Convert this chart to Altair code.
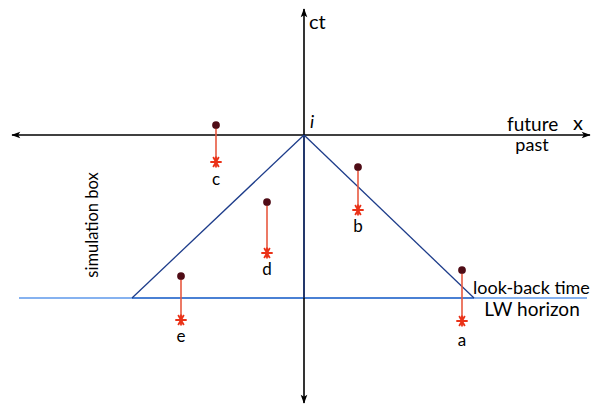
import altair as alt
import pandas as pd

# Diagram coordinates: origin at event i, x to the right, ct upwards (pixel-like units)
X_DOMAIN = [-296, 288]
Y_DOMAIN = [-270, 127]

# events a..e: position of the dot, the projected star and the letter label
event_names = ["a", "b", "c", "d", "e"]
event_x = [158, 54, -88, -37, -123]
event_ct = [-135, -32, 10, -67, -141]
star_ct = [-186, -75, -27, -118, -185]
name_ct = [-206, -92, -45, -135, -202]

# axes and light cone
x_axis_ends = [-292, 286]
ct_axis_ends = [-268, 126]
horizon_ct = -163
horizon_ends = [-285, 283]
cone_base_ends = [-172, 170]

# free text annotations
annot_text = ["ct", "future", "x", "past", "look-back time", "LW horizon"]
annot_x = [5, 203, 274, 228, 169, 228]
annot_ct = [112, 10, 11, -11, -154, -175]
annot_size = [20, 19, 20, 18, 18, 19]
annot_align = ["left", "left", "center", "center", "left", "center"]

FONT = "Lato"

xs = alt.Scale(domain=X_DOMAIN, nice=False, zero=False)
ys = alt.Scale(domain=Y_DOMAIN, nice=False, zero=False)


def X(f="x"):
    return alt.X(f"{f}:Q", scale=xs, axis=None)


def Y(f="y"):
    return alt.Y(f"{f}:Q", scale=ys, axis=None)


def segs(rows, color, width):
    df = pd.DataFrame(rows, columns=["x", "y", "x2", "y2"])
    return alt.Chart(df).mark_rule(color=color, strokeWidth=width, strokeCap="butt").encode(
        x=X(), y=Y(), x2="x2:Q", y2="y2:Q"
    )


horizon = segs([[horizon_ends[0], horizon_ct, horizon_ends[1], horizon_ct]], "#86b2f0", 2)
cone_base = segs([[cone_base_ends[0], horizon_ct, cone_base_ends[1], horizon_ct]], "#4a80d4", 2)
axes = segs(
    [
        [x_axis_ends[0], 0, x_axis_ends[1], 0],
        [0, ct_axis_ends[0], 0, ct_axis_ends[1]],
    ],
    "black",
    1.6,
)
cone = segs(
    [
        [cone_base_ends[0], horizon_ct, 0, 0],
        [0, 0, cone_base_ends[1], horizon_ct],
        [0, 0, 0, horizon_ct],
    ],
    "#1d3c8a",
    1.3,
)

ev = pd.DataFrame({"name": event_names, "x": event_x, "ct": event_ct, "star": star_ct, "lab": name_ct})

drops = alt.Chart(ev).mark_rule(color="#e8583f", strokeWidth=1.6).encode(
    x=X(), y=Y("ct"), y2="star:Q"
)
dots = alt.Chart(ev).mark_point(filled=True, shape="circle", size=60, color="#4f0c16", opacity=1).encode(
    x=X(), y=Y("ct")
)
STAR = "M-1,0L1,0M-0.5,-0.87L0.5,0.87M-0.5,0.87L0.5,-0.87M0,-0.95L0,0.95"
stars = alt.Chart(ev).mark_point(
    filled=False, shape=STAR, size=130, color="#ea3218", strokeWidth=1.8, opacity=1
).encode(x=X(), y=Y("star"))
names = alt.Chart(ev).mark_text(font=FONT, fontSize=17, color="black", baseline="middle").encode(
    x=X(), y=Y("lab"), text="name:N"
)

ARROW = "M0,-1L0.7,0.9L0,0.45L-0.7,0.9Z"
arrows_df = pd.DataFrame(
    {
        "x": [x_axis_ends[0] + 4, x_axis_ends[1] - 4, 0, 0],
        "y": [0, 0, ct_axis_ends[1] - 4, ct_axis_ends[0] + 4],
        "angle": [270, 90, 0, 180],
    }
)
arrows = alt.Chart(arrows_df).mark_point(filled=True, shape=ARROW, size=90, color="black", opacity=1).encode(
    x=X(), y=Y(), angle=alt.Angle("angle:Q", scale=None)
)

ann = pd.DataFrame(
    {"t": annot_text, "x": annot_x, "y": annot_ct, "s": annot_size, "a": annot_align}
)
texts = []
for _, r in ann.iterrows():
    texts.append(
        alt.Chart(pd.DataFrame([r])).mark_text(
            font=FONT, fontSize=int(r["s"]), align=r["a"], baseline="middle", color="black"
        ).encode(x=X(), y=Y(), text="t:N")
    )

i_label = alt.Chart(pd.DataFrame({"x": [8], "y": [12], "t": ["i"]})).mark_text(
    font=FONT, fontSize=18, fontStyle="italic", align="center", baseline="middle", color="black"
).encode(x=X(), y=Y(), text="t:N")

sim_box = alt.Chart(pd.DataFrame({"x": [-211], "y": [-90], "t": ["simulation box"]})).mark_text(
    font=FONT, fontSize=16.5, angle=270, align="center", baseline="middle", color="black"
).encode(x=X(), y=Y(), text="t:N")

chart = alt.layer(
    horizon, cone_base, axes, cone, drops, dots, stars, names, arrows, i_label, sim_box, *texts
).properties(
    width=584, height=397, padding=0, autosize=alt.AutoSizeParams(type="none"), background="white"
).configure_view(stroke=None)

chart.save("out.html", embed_options={"renderer": "svg", "actions": False})
